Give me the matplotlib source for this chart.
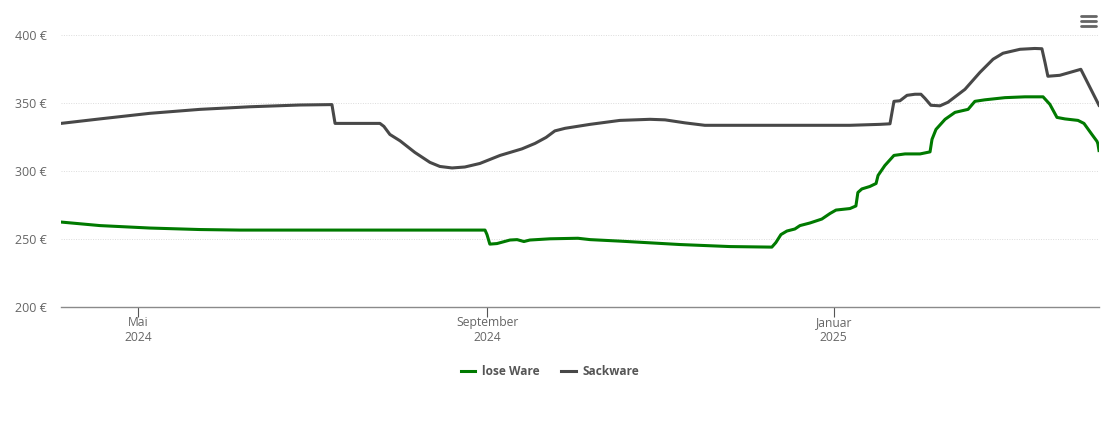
#!/usr/bin/env python3
import matplotlib
matplotlib.use("Agg")
import matplotlib.pyplot as plt
from matplotlib.lines import Line2D

plt.rcParams['font.family'] = ['Open Sans', 'DejaVu Sans']

W, H = 1110, 422

# x values: days since 1 May 2024
sack_days = [-27.1, -13.4, 4.2, 21.8, 39.4, 57.0, 68.3, 69.4, 85.2, 86.6, 88.7, 92.3, 97.5,
             102.8, 106.3, 110.6, 115.1, 120.4, 127.5, 135.2, 139.8, 143.7, 146.8, 150.4,
             159.2, 169.7, 180.3, 185.6, 192.6, 199.6, 215.5, 250.7, 261.3, 264.8, 266.2,
             268.3, 270.8, 273.6, 275.7, 277.1, 279.2, 282.4, 285.2, 291.2, 296.5, 301.1,
             304.6, 310.6, 315.8, 318.3, 319.4, 320.4, 324.6, 332.0, 338.4]
sack_price = [334.9, 338.2, 342.3, 345.2, 347.1, 348.4, 348.7, 334.9, 334.9, 332.7, 326.8, 322.1, 313.6,
              306.3, 303.3, 302.2, 302.9, 305.5, 311.4, 316.2, 320.2, 324.6, 329.4, 331.3,
              334.2, 337.1, 337.9, 337.5, 335.3, 333.5, 333.5, 333.5, 334.2, 334.6, 351.1,
              351.5, 355.5, 356.3, 356.3, 353.3, 348.2, 347.8, 350.4, 359.9, 372.4, 382.0,
              386.4, 389.3, 389.9, 389.7, 379.5, 369.5, 370.2, 374.6, 348.2]

lose_days = [-27.1, -13.4, 4.2, 21.8, 35.9, 122.2, 122.9, 123.9, 126.4, 131.0, 133.5, 135.9, 138.0,
             145.1, 154.9, 159.2, 169.7, 190.8, 208.5, 223.2, 224.6, 226.4, 228.5, 231.3,
             233.1, 236.6, 240.8, 243.7, 245.8, 250.7, 252.8, 253.5, 254.9, 257.7, 259.9,
             260.6, 263.0, 266.2, 270.1, 275.4, 278.9, 279.6, 281.0, 284.2, 287.7, 292.3,
             294.7, 298.2, 305.3, 312.3, 318.7, 321.1, 323.6, 326.4, 331.0, 333.1, 335.9,
             337.7, 338.0, 338.4]
lose_price = [262.5, 259.9, 258.1, 257.0, 256.6, 256.6, 253.3, 246.3, 246.7, 249.3, 249.6, 248.2, 249.3,
              250.2, 250.6, 249.6, 248.5, 246.0, 244.5, 244.1, 247.4, 253.3, 255.9, 257.4,
              259.9, 261.8, 264.7, 268.8, 271.3, 272.4, 274.3, 284.2, 286.8, 288.6, 290.8,
              296.7, 304.0, 311.4, 312.5, 312.5, 314.0, 323.2, 330.5, 337.9, 343.0, 345.2,
              351.1, 352.2, 353.8, 354.4, 354.4, 348.9, 339.3, 338.2, 337.1, 334.9, 326.8,
              321.7, 320.0, 315.0]

month_ticks = [0, 123, 245]
month_labels = ["Mai\n2024", "September\n2024", "Januar\n2025"]
y_ticks = [200, 250, 300, 350, 400]
y_labels = ["200 €", "250 €", "300 €", "350 €", "400 €"]

fig = plt.figure(figsize=(W / 100, H / 100), dpi=100)
ax = fig.add_axes([61 / W, 1 - 307.2 / H, (1099 - 61) / W, (307.2 - 34.7) / H])

ax.plot(lose_days, lose_price, color="#007a00", lw=2.2, label="lose Ware", solid_joinstyle="round", zorder=3)
ax.plot(sack_days, sack_price, color="#484848", lw=2.2, label="Sackware", solid_joinstyle="round", zorder=3)

ax.set_xlim(-27.1, 338.4)
ax.set_ylim(200, 400)

for s in ["top", "right", "left"]:
    ax.spines[s].set_visible(False)
ax.spines["bottom"].set_color("#8a8a8a")
ax.spines["bottom"].set_linewidth(1.0)

ax.set_yticks(y_ticks, y_labels)
ax.set_xticks(month_ticks, month_labels)
ax.tick_params(axis="y", length=0, pad=10, labelsize=9, labelcolor="#666666")
ax.tick_params(axis="x", length=7, width=0.8, color="#555555", pad=-0.5, labelsize=8.7, labelcolor="#666666")
ax.grid(axis="y", color="#dcdcdc", lw=0.7, ls=(0, (1, 1.5)))
ax.set_axisbelow(True)

leg = ax.legend(loc="center", bbox_to_anchor=(550 / W, 1 - 371.5 / H), bbox_transform=fig.transFigure,
                ncol=2, frameon=False, handlelength=1.2, handletextpad=0.6, columnspacing=1.8,
                prop={"size": 8.6, "weight": "bold"})
for t in leg.get_texts():
    t.set_color("#555555")

# export menu icon
for yy in (16.3, 21.3, 26.3):
    fig.add_artist(Line2D([1081 / W, 1096 / W], [1 - yy / H, 1 - yy / H], color="#666666", lw=2.0,
                          solid_capstyle="round"))

fig.savefig("out.png", dpi=100)
